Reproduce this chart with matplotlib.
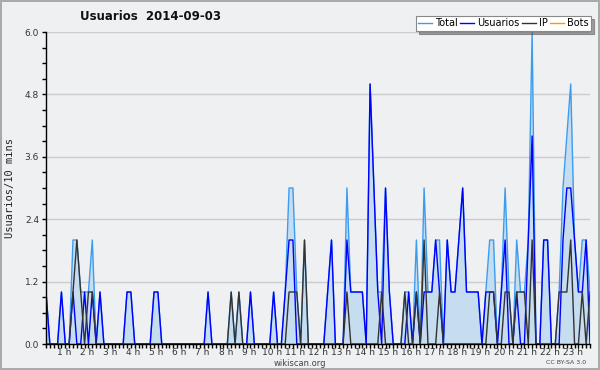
import numpy as np
import matplotlib
matplotlib.use('Agg')
import matplotlib.pyplot as plt
from matplotlib.ticker import MultipleLocator

# 10-minute slots, 00:00 -> 23:30
usuarios = [1, 0, 0, 0, 1, 0, 0, 1, 0, 0, 1, 0, 1, 0, 1, 0, 0, 0, 0, 0,
            0, 1, 1, 0, 0, 0, 0, 0, 1, 1, 0, 0, 0, 0, 0, 0, 0, 0, 0, 0,
            0, 0, 1, 0, 0, 0, 0, 0, 0, 0, 0, 0, 0, 1, 0, 0, 0, 0, 0, 1,
            0, 0, 1, 2, 2, 0, 0, 0, 0, 0, 0, 0, 0, 1, 2, 0, 0, 0, 2, 1,
            1, 1, 1, 0, 5, 3, 1, 0, 3, 1, 0, 0, 0, 0, 1, 0, 1, 0, 1, 1,
            1, 2, 1, 0, 2, 1, 1, 2, 3, 1, 1, 1, 1, 0, 1, 1, 1, 0, 1, 2,
            0, 0, 1, 0, 0, 2, 4, 0, 0, 2, 2, 0, 0, 0, 2, 3, 3, 2, 1, 1,
            2, 0]
ip = [0, 0, 0, 0, 0, 0, 0, 1, 2, 1, 0, 1, 1, 0, 0, 0, 0, 0, 0, 0,
      0, 0, 0, 0, 0, 0, 0, 0, 0, 0, 0, 0, 0, 0, 0, 0, 0, 0, 0, 0,
      0, 0, 0, 0, 0, 0, 0, 0, 1, 0, 1, 0, 0, 0, 0, 0, 0, 0, 0, 0,
      0, 0, 0, 1, 1, 1, 0, 2, 0, 0, 0, 0, 0, 0, 0, 0, 0, 0, 1, 0,
      0, 0, 0, 0, 0, 0, 0, 1, 0, 0, 0, 0, 0, 1, 0, 0, 1, 0, 2, 0,
      0, 0, 1, 0, 0, 0, 0, 0, 0, 0, 0, 0, 0, 0, 0, 1, 1, 0, 0, 1,
      1, 0, 1, 1, 1, 0, 2, 0, 0, 0, 0, 0, 0, 1, 1, 1, 2, 0, 0, 1,
      0, 1]
bots = [0] * len(usuarios)
hours = list(range(1, 24))

u = np.array(usuarios)
p = np.array(ip)
b = np.array(bots)
total = u + p + b
x = np.arange(len(u))

bg = '#eff0f2'
fig = plt.figure(figsize=(6, 3.7), dpi=100, facecolor=bg,
                 linewidth=1.5, edgecolor='#aaaaaa')
ax = fig.add_axes([46/600, 26/370, 544/600, 312/370])
ax.set_facecolor(bg)

ax.fill_between(x, total, color='#c6dcef', lw=0, zorder=1)
ax.plot(x, b, color='#ff9900', lw=1, zorder=1.5)
ax.plot(x, total, color='#3c9cf0', lw=1, label='Total', zorder=2)
ax.plot(x, u, color='#0000ff', lw=1, label='Usuarios', zorder=2.1)
ax.plot(x, p, color='#333333', lw=1, label='IP', zorder=2.2)
ax.plot([], [], color='#ff9900', lw=1, label='Bots')

ax.set_xlim(0, len(u) - 1)
ax.set_ylim(0, 6)

for s in ['top', 'right']:
    ax.spines[s].set_visible(False)
ax.spines['left'].set_linewidth(1)
ax.spines['bottom'].set_linewidth(1)

ax.set_yticks(np.arange(0, 6.01, 1.2))
ax.set_yticklabels(['%.1f' % v for v in np.arange(0, 6.01, 1.2)], fontsize=6.5,
                   color='#333333')
ax.yaxis.set_minor_locator(MultipleLocator(0.3))
ax.tick_params(axis='y', which='both', direction='out', length=3, width=1, pad=2)
ax.grid(axis='y', color='#cccccc', lw=1)
ax.set_axisbelow(True)

ax.set_xticks([6 * h - 1.4 for h in hours])
ax.set_xticklabels(['%d h' % h for h in hours], fontsize=6.5, color='#333333')
ax.xaxis.set_minor_locator(MultipleLocator(1))
ax.tick_params(axis='x', which='major', length=0, pad=2.8)
ax.tick_params(axis='x', which='minor', direction='out', length=3, width=1)

fig.text(10/600, 1 - 188/370, 'Usuarios/10 mins', rotation=90, ha='center',
         va='center', fontsize=7.5, family='DejaVu Sans Mono', color='#222222')
fig.text(151/600, 1 - 16/370, 'Usuarios  2014-09-03', ha='center', va='center',
         fontsize=8.5, fontweight='bold', color='#111111')
fig.text(300/600, 1 - 363/370, 'wikiscan.org', ha='center', va='center',
         fontsize=6, color='#444444')
fig.text(586/600, 1 - 363/370, 'CC BY-SA 3.0', ha='right', va='center',
         fontsize=4.5, color='#444444')

leg = fig.legend(loc='upper right', bbox_to_anchor=(591/600, 1 - 16/370), ncol=4,
                 fontsize=7, frameon=True, fancybox=False, shadow=True,
                 handlelength=1.4, handletextpad=0.3, columnspacing=0.3,
                 borderpad=0.25, borderaxespad=0)
leg.get_frame().set_edgecolor('#888888')
leg.get_frame().set_linewidth(0.8)

fig.savefig('out.png', dpi=100, facecolor=bg, edgecolor='#aaaaaa')
